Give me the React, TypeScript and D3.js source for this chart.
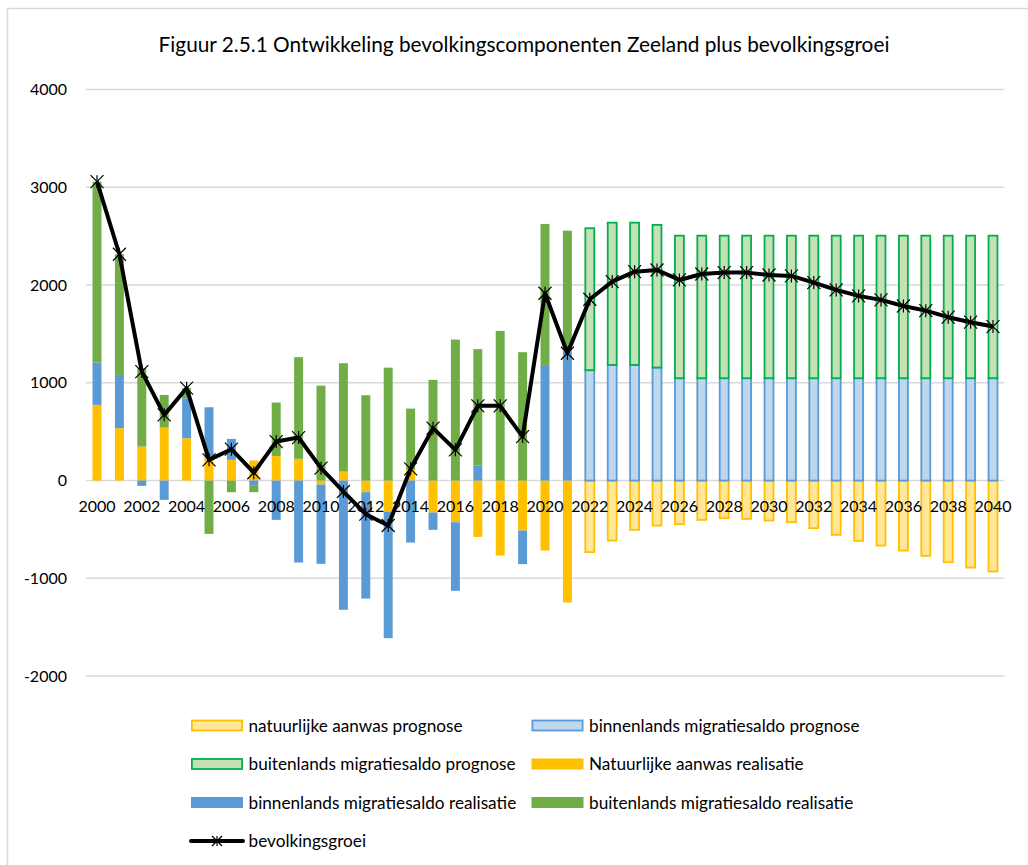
import React from "react";
import * as d3 from "d3";

const years: number[] = d3.range(2000, 2041);

// Realisatie 2000-2021
const natRealisatie = [774, 536, 348, 542, 433, 229, 212, 205, 252, 222, -40, 92, -119, -317, 110, -327, -426, -576, -767, -511, -716, -1247];
const binRealisatie = [433, 545, -54, -197, 409, 521, 214, -54, -402, -838, -812, -1322, -1088, -1295, -634, -177, -702, 153, 0, -344, 1183, 1320];
const butRealisatie = [1850, 1234, 801, 334, 103, -545, -119, -65, 546, 1040, 971, 1108, 873, 1155, 626, 1030, 1442, 1191, 1531, 1313, 1442, 1236];

// Prognose 2022-2040
const natPrognose = [-732, -613, -504, -460, -446, -402, -385, -392, -409, -426, -487, -555, -617, -665, -716, -770, -835, -890, -930];
const binPrognose = [1129, 1183, 1183, 1156, 1047, 1047, 1047, 1047, 1047, 1047, 1047, 1047, 1047, 1047, 1047, 1047, 1047, 1047, 1047];
const butPrognose = [1452, 1455, 1455, 1459, 1458, 1458, 1458, 1458, 1458, 1458, 1458, 1458, 1458, 1458, 1458, 1458, 1458, 1458, 1458];

// Bevolkingsgroei 2000-2040
const groei = [3057, 2315, 1115, 672, 945, 212, 321, 80, 399, 440, 127, -112, -344, -460, 120, 536, 314, 764, 764, 450, 1916, 1302, 1855, 2035, 2137, 2154, 2052, 2113, 2127, 2127, 2103, 2093, 2025, 1950, 1889, 1848, 1786, 1738, 1671, 1620, 1575];

const yTicks = [-2000, -1000, 0, 1000, 2000, 3000, 4000];
const xTickYears = years.filter((y) => y % 2 === 0);

const title = "Figuur 2.5.1 Ontwikkeling bevolkingscomponenten Zeeland plus bevolkingsgroei";

type Key = "natP" | "binP" | "butP" | "natR" | "binR" | "butR";
const seriesKeys: Key[] = ["natP", "binP", "butP", "natR", "binR", "butR"];

const seriesStyle: Record<Key, { fill: string; stroke: string | null; label: string }> = {
  natP: { fill: "#FFE699", stroke: "#FFC000", label: "natuurlijke aanwas prognose" },
  binP: { fill: "#BDD7EE", stroke: "#5B9BD5", label: "binnenlands migratiesaldo prognose" },
  butP: { fill: "#C5E0B4", stroke: "#00B050", label: "buitenlands migratiesaldo prognose" },
  natR: { fill: "#FFC000", stroke: null, label: "Natuurlijke aanwas realisatie" },
  binR: { fill: "#5B9BD5", stroke: null, label: "binnenlands migratiesaldo realisatie" },
  butR: { fill: "#70AD47", stroke: null, label: "buitenlands migratiesaldo realisatie" },
};

const FONT = "Lato, 'Open Sans', sans-serif";

export default function App() {
  const W = 1028;
  const H = 865;
  const plotLeft = 85.8;
  const plotRight = 1004.2;

  const x = d3
    .scaleBand<number>()
    .domain(years)
    .range([plotLeft, plotRight])
    .paddingInner(0.6)
    .paddingOuter(0.3);
  const y = d3.scaleLinear().domain([-2000, 4000]).range([676.1, 89.5]);

  const rows = years.map((yr, i) => {
    const ri = yr - 2000;
    const pi = yr - 2022;
    return {
      year: yr,
      natR: ri < natRealisatie.length ? natRealisatie[ri] : 0,
      binR: ri < binRealisatie.length ? binRealisatie[ri] : 0,
      butR: ri < butRealisatie.length ? butRealisatie[ri] : 0,
      natP: pi >= 0 ? natPrognose[pi] : 0,
      binP: pi >= 0 ? binPrognose[pi] : 0,
      butP: pi >= 0 ? butPrognose[pi] : 0,
      groei: groei[i],
    };
  });

  const stack = d3
    .stack<any, Key>()
    .keys(seriesKeys)
    .offset(d3.stackOffsetDiverging);
  const stacked = stack(rows);

  const bw = x.bandwidth();
  const cx = (yr: number) => (x(yr) as number) + bw / 2;

  const line = d3
    .line<any>()
    .x((d) => cx(d.year))
    .y((d) => y(d.groei));

  const star = (px: number, py: number, s: number, key: string) => (
    <g key={key} stroke="#000" strokeWidth={1.2}>
      <line x1={px - s} y1={py - s} x2={px + s} y2={py + s} />
      <line x1={px - s} y1={py + s} x2={px + s} y2={py - s} />
      <line x1={px} y1={py - s} x2={px} y2={py + s} />
    </g>
  );

  const legendItems: { key: Key | "line"; col: number; row: number }[] = [
    { key: "natP", col: 0, row: 0 },
    { key: "binP", col: 1, row: 0 },
    { key: "butP", col: 0, row: 1 },
    { key: "natR", col: 1, row: 1 },
    { key: "binR", col: 0, row: 2 },
    { key: "butR", col: 1, row: 2 },
    { key: "line", col: 0, row: 3 },
  ];
  const legColX = [191, 531.5];
  const legRowY = [725.5, 764, 802.5, 841];
  const legFont = 17.2;
  const tickFont = 16;

  return (
    <svg
      width={W}
      height={H}
      style={{ position: "absolute", left: 0, top: 0, display: "block", background: "#fff" }}
      fontFamily={FONT}
    >
      <rect x={0} y={0} width={W} height={H} fill="#fff" />
      {/* outer border */}
      <line x1={7.5} y1={8.5} x2={W} y2={8.5} stroke="#d9d9d9" strokeWidth={1.5} />
      <line x1={7.5} y1={8.5} x2={7.5} y2={H} stroke="#d9d9d9" strokeWidth={1.5} />

      <text x={524} y={52} textAnchor="middle" fontSize={20.8} fill="#000">
        {title}
      </text>

      {/* gridlines */}
      {yTicks.map((t) => (
        <line key={t} x1={plotLeft} x2={plotRight} y1={y(t)} y2={y(t)} stroke="#d9d9d9" strokeWidth={1.5} />
      ))}
      {yTicks.map((t) => (
        <text key={"l" + t} x={67} y={y(t)} dy="0.35em" textAnchor="end" fontSize={tickFont} fill="#000">
          {t}
        </text>
      ))}

      {/* bars */}
      {stacked.map((s) => {
        const st = seriesStyle[s.key as Key];
        return (
          <g key={s.key}>
            {s.map((d, i) => {
              const v = (d.data as any)[s.key];
              if (!v) return null;
              const y0 = y(d[0]);
              const y1 = y(d[1]);
              const top = Math.min(y0, y1);
              const h = Math.abs(y1 - y0);
              const xl = x(years[i]) as number;
              if (st.stroke) {
                return (
                  <rect
                    key={i}
                    x={xl}
                    y={top}
                    width={bw}
                    height={h}
                    fill={st.fill}
                    stroke={st.stroke}
                    strokeWidth={1.8}
                  />
                );
              }
              return <rect key={i} x={xl} y={top} width={bw} height={h} fill={st.fill} />;
            })}
          </g>
        );
      })}

      {/* x labels */}
      {xTickYears.map((yr) => (
        <text key={yr} x={cx(yr)} y={512} textAnchor="middle" fontSize={tickFont} fill="#000">
          {yr}
        </text>
      ))}

      {/* growth line */}
      <path d={line(rows) as string} fill="none" stroke="#000" strokeWidth={4} strokeLinejoin="round" />
      {rows.map((d) => star(cx(d.year), y(d.groei), 6.5, "m" + d.year))}

      {/* legend */}
      {legendItems.map((it) => {
        const lx = legColX[it.col];
        const ly = legRowY[it.row];
        if (it.key === "line") {
          return (
            <g key="leg-line">
              <line x1={lx} x2={lx + 52} y1={ly} y2={ly} stroke="#000" strokeWidth={4} strokeLinecap="round" />
              {star(lx + 26, ly, 5, "legstar")}
              <text x={lx + 57.5} y={ly} dy="0.35em" fontSize={legFont} fill="#000">
                bevolkingsgroei
              </text>
            </g>
          );
        }
        const st = seriesStyle[it.key];
        return (
          <g key={"leg" + it.key}>
            {st.stroke ? (
              <rect x={lx + 0.9} y={ly - 5} width={50.2} height={10} fill={st.fill} stroke={st.stroke} strokeWidth={1.8} />
            ) : (
              <rect x={lx} y={ly - 5.5} width={52} height={11} fill={st.fill} />
            )}
            <text x={lx + 57.5} y={ly} dy="0.35em" fontSize={legFont} fill="#000">
              {st.label}
            </text>
          </g>
        );
      })}
    </svg>
  );
}
